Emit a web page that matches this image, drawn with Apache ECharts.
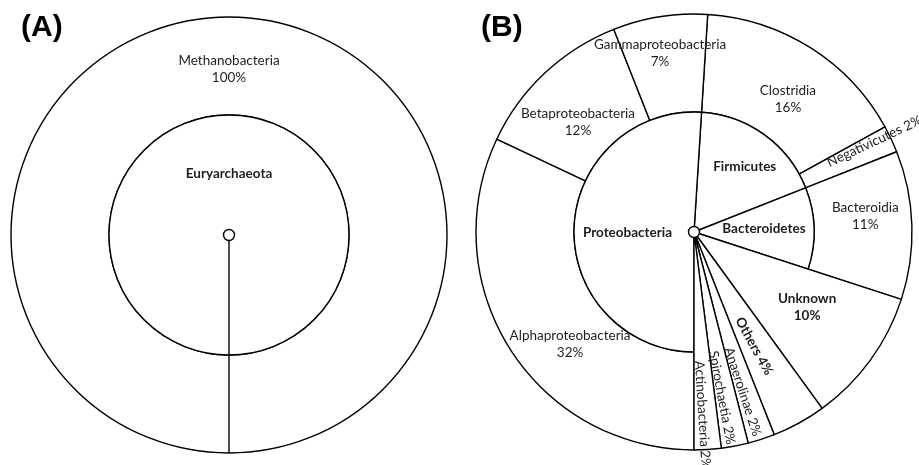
<!DOCTYPE html>
<html><head><meta charset="utf-8">
<script src="https://cdn.jsdelivr.net/npm/echarts@6/dist/echarts.min.js"></script>
<style>html,body{margin:0;padding:0;background:#fff}#c{width:919px;height:465px}</style>
</head><body><div id="c"></div>
<script>
// ---------- DATA ----------
// Panel A
const aPhyla = ['Euryarchaeota'];
const aPhylaValues = [100];
const aClasses = ['Methanobacteria'];
const aClassValues = [100];

// Panel B (clockwise, starting near 12 o'clock)
const bClasses = ['Clostridia', 'Negativicutes', 'Bacteroidia', 'Unknown', 'Others', 'Anaerolinae',
                  'Spirochaetia', 'Actinobacteria', 'Alphaproteobacteria', 'Betaproteobacteria', 'Gammaproteobacteria'];
const bClassValues = [16, 2, 11, 10, 4, 2, 2, 2, 32, 12, 7];
const bClassPhylum = ['Firmicutes', 'Firmicutes', 'Bacteroidetes', null, null, null, null, null,
                      'Proteobacteria', 'Proteobacteria', 'Proteobacteria'];

const panelTitles = ['(A)', '(B)'];

// ---------- STYLE ----------
const FONT = 'Lato';
const LINE = '#000';
const BW = 1.4;
const A_C = [229, 235], B_C = [694, 232];
const R_IN = 120, R_OUT = 218, R_HUB = 5.5;
const A_START = -90, B_START = 86.4;

// label placement: radius from centre and angular nudge (deg) from the slice's mid-angle
const labelOpts = {
  Methanobacteria: { r: 166, da: 0 },
  Euryarchaeota: { bold: true, r: 61, da: 0 },
  Clostridia: { r: 163, da: 2.8 },
  Negativicutes: { oneLine: true, rotate: true, r: 202, da: -1.5 },
  Bacteroidia: { r: 172, da: -3.5 },
  Unknown: { bold: true, r: 136, da: -2.3 },
  Others: { bold: true, oneLine: true, rotate: true, r: 129, da: 1 },
  Anaerolinae: { oneLine: true, rotate: true, r: 167, da: 1 },
  Spirochaetia: { oneLine: true, rotate: true, r: 168, da: 1.2 },
  Actinobacteria: { oneLine: true, rotate: true, r: 183, da: 0.9 },
  Alphaproteobacteria: { r: 167, da: -9.7 },
  Betaproteobacteria: { r: 159.5, da: -3.45 },
  Gammaproteobacteria: { r: 182, da: -1.75 },
  Proteobacteria: { bold: true, r: 66.5, da: -2.7 },
  Firmicutes: { bold: true, r: 83, da: 1.7 },
  Bacteroidetes: { bold: true, r: 70, da: -0.7 }
};

function makeLabel(name, pct) {
  const o = labelOpts[name] || {};
  return {
    show: true, position: 'inside',
    formatter: pct == null ? name : (o.oneLine ? name + ' ' + pct + '%' : name + '\n' + pct + '%'),
    fontFamily: FONT, fontSize: 13.5, lineHeight: 17, color: '#1e1e1e',
    fontWeight: o.bold ? 'bold' : 'normal',
    rotate: o.rotate ? 'radial' : 0, overflow: 'none'
  };
}
const visibleStyle = { color: '#fff', borderColor: LINE, borderWidth: BW };
const hiddenItem = (name, value) => ({ name: name, value: value,
  itemStyle: { color: 'rgba(0,0,0,0)', borderWidth: 0 }, label: { show: false } });

function pieSeries(center, radius, data, start, z) {
  // mid-angles (clockwise from 12 o'clock) of each slice, from the data
  const total = data.reduce((s, d) => s + d.value, 0);
  let acc = 0;
  const mids = data.map(d => { const m = (90 - start) + 360 * (acc + d.value / 2) / total; acc += d.value; return m; });
  return {
    type: 'pie', center: center, radius: radius, startAngle: start, clockwise: true,
    avoidLabelOverlap: false, silent: true, animation: false, z: z || 2,
    labelLayout: function (p) {
      const d = data[p.dataIndex];
      const o = labelOpts[d.name];
      if (!o) return { hideOverlap: false };
      const a = (mids[p.dataIndex] + o.da) * Math.PI / 180;
      return { x: center[0] + o.r * Math.sin(a), y: center[1] - o.r * Math.cos(a),
               align: 'center', verticalAlign: 'middle', hideOverlap: false };
    },
    emphasis: { disabled: true }, labelLine: { show: false },
    itemStyle: visibleStyle, data: data
  };
}

// Panel A series
const aInner = aPhyla.map((n, i) => ({ name: n, value: aPhylaValues[i], label: makeLabel(n, null) }));
const aOuter = aClasses.map((n, i) => ({ name: n, value: aClassValues[i], label: makeLabel(n, aClassValues[i]) }));

// Panel B: ring of classes that belong to a phylum
const bRing = bClasses.map((n, i) => bClassPhylum[i]
  ? { name: n, value: bClassValues[i], label: makeLabel(n, bClassValues[i]) }
  : hiddenItem(n, bClassValues[i]));
// full sectors for classes without a phylum
const bFull = bClasses.map((n, i) => !bClassPhylum[i]
  ? { name: n, value: bClassValues[i], label: makeLabel(n, bClassValues[i]) }
  : hiddenItem(n, bClassValues[i]));
// phylum ring: contiguous sums
const bInner = [];
bClasses.forEach((n, i) => {
  const key = bClassPhylum[i] || '_gap';
  const last = bInner[bInner.length - 1];
  if (last && last.key === key) last.value += bClassValues[i];
  else bInner.push({ key: key, value: bClassValues[i] });
});
const bInnerData = bInner.map((d, i) => d.key === '_gap'
  ? hiddenItem('gap' + i, d.value)
  : { name: d.key, value: d.value, label: makeLabel(d.key, null) });

const hub = () => [{ name: 'hub', value: 1, label: { show: false } }];

const chart = echarts.init(document.getElementById('c'));
chart.setOption({
  animation: false,
  backgroundColor: '#fff',
  title: panelTitles.map((t, i) => ({
    text: t, left: i === 0 ? 16 : 476, top: 8,
    textStyle: { fontFamily: 'Liberation Sans', fontWeight: 'bold', fontSize: 30, color: '#000' }
  })),
  graphic: [{
    type: 'line', silent: true, z: 3,
    shape: { x1: A_C[0], y1: A_C[1] + R_HUB, x2: A_C[0], y2: A_C[1] + R_OUT },
    style: { stroke: LINE, lineWidth: BW }
  }],
  series: [
    pieSeries(A_C, [R_IN, R_OUT], aOuter, A_START),
    pieSeries(A_C, [0, R_IN], aInner, A_START),
    pieSeries(A_C, [0, R_HUB], hub(), 90, 6),
    pieSeries(B_C, [R_IN, R_OUT], bRing, B_START),
    pieSeries(B_C, [0, R_IN], bInnerData, B_START),
    pieSeries(B_C, [0, R_OUT], bFull, B_START, 3),
    pieSeries(B_C, [0, R_HUB], hub(), 90, 6)
  ]
});
</script></body></html>
